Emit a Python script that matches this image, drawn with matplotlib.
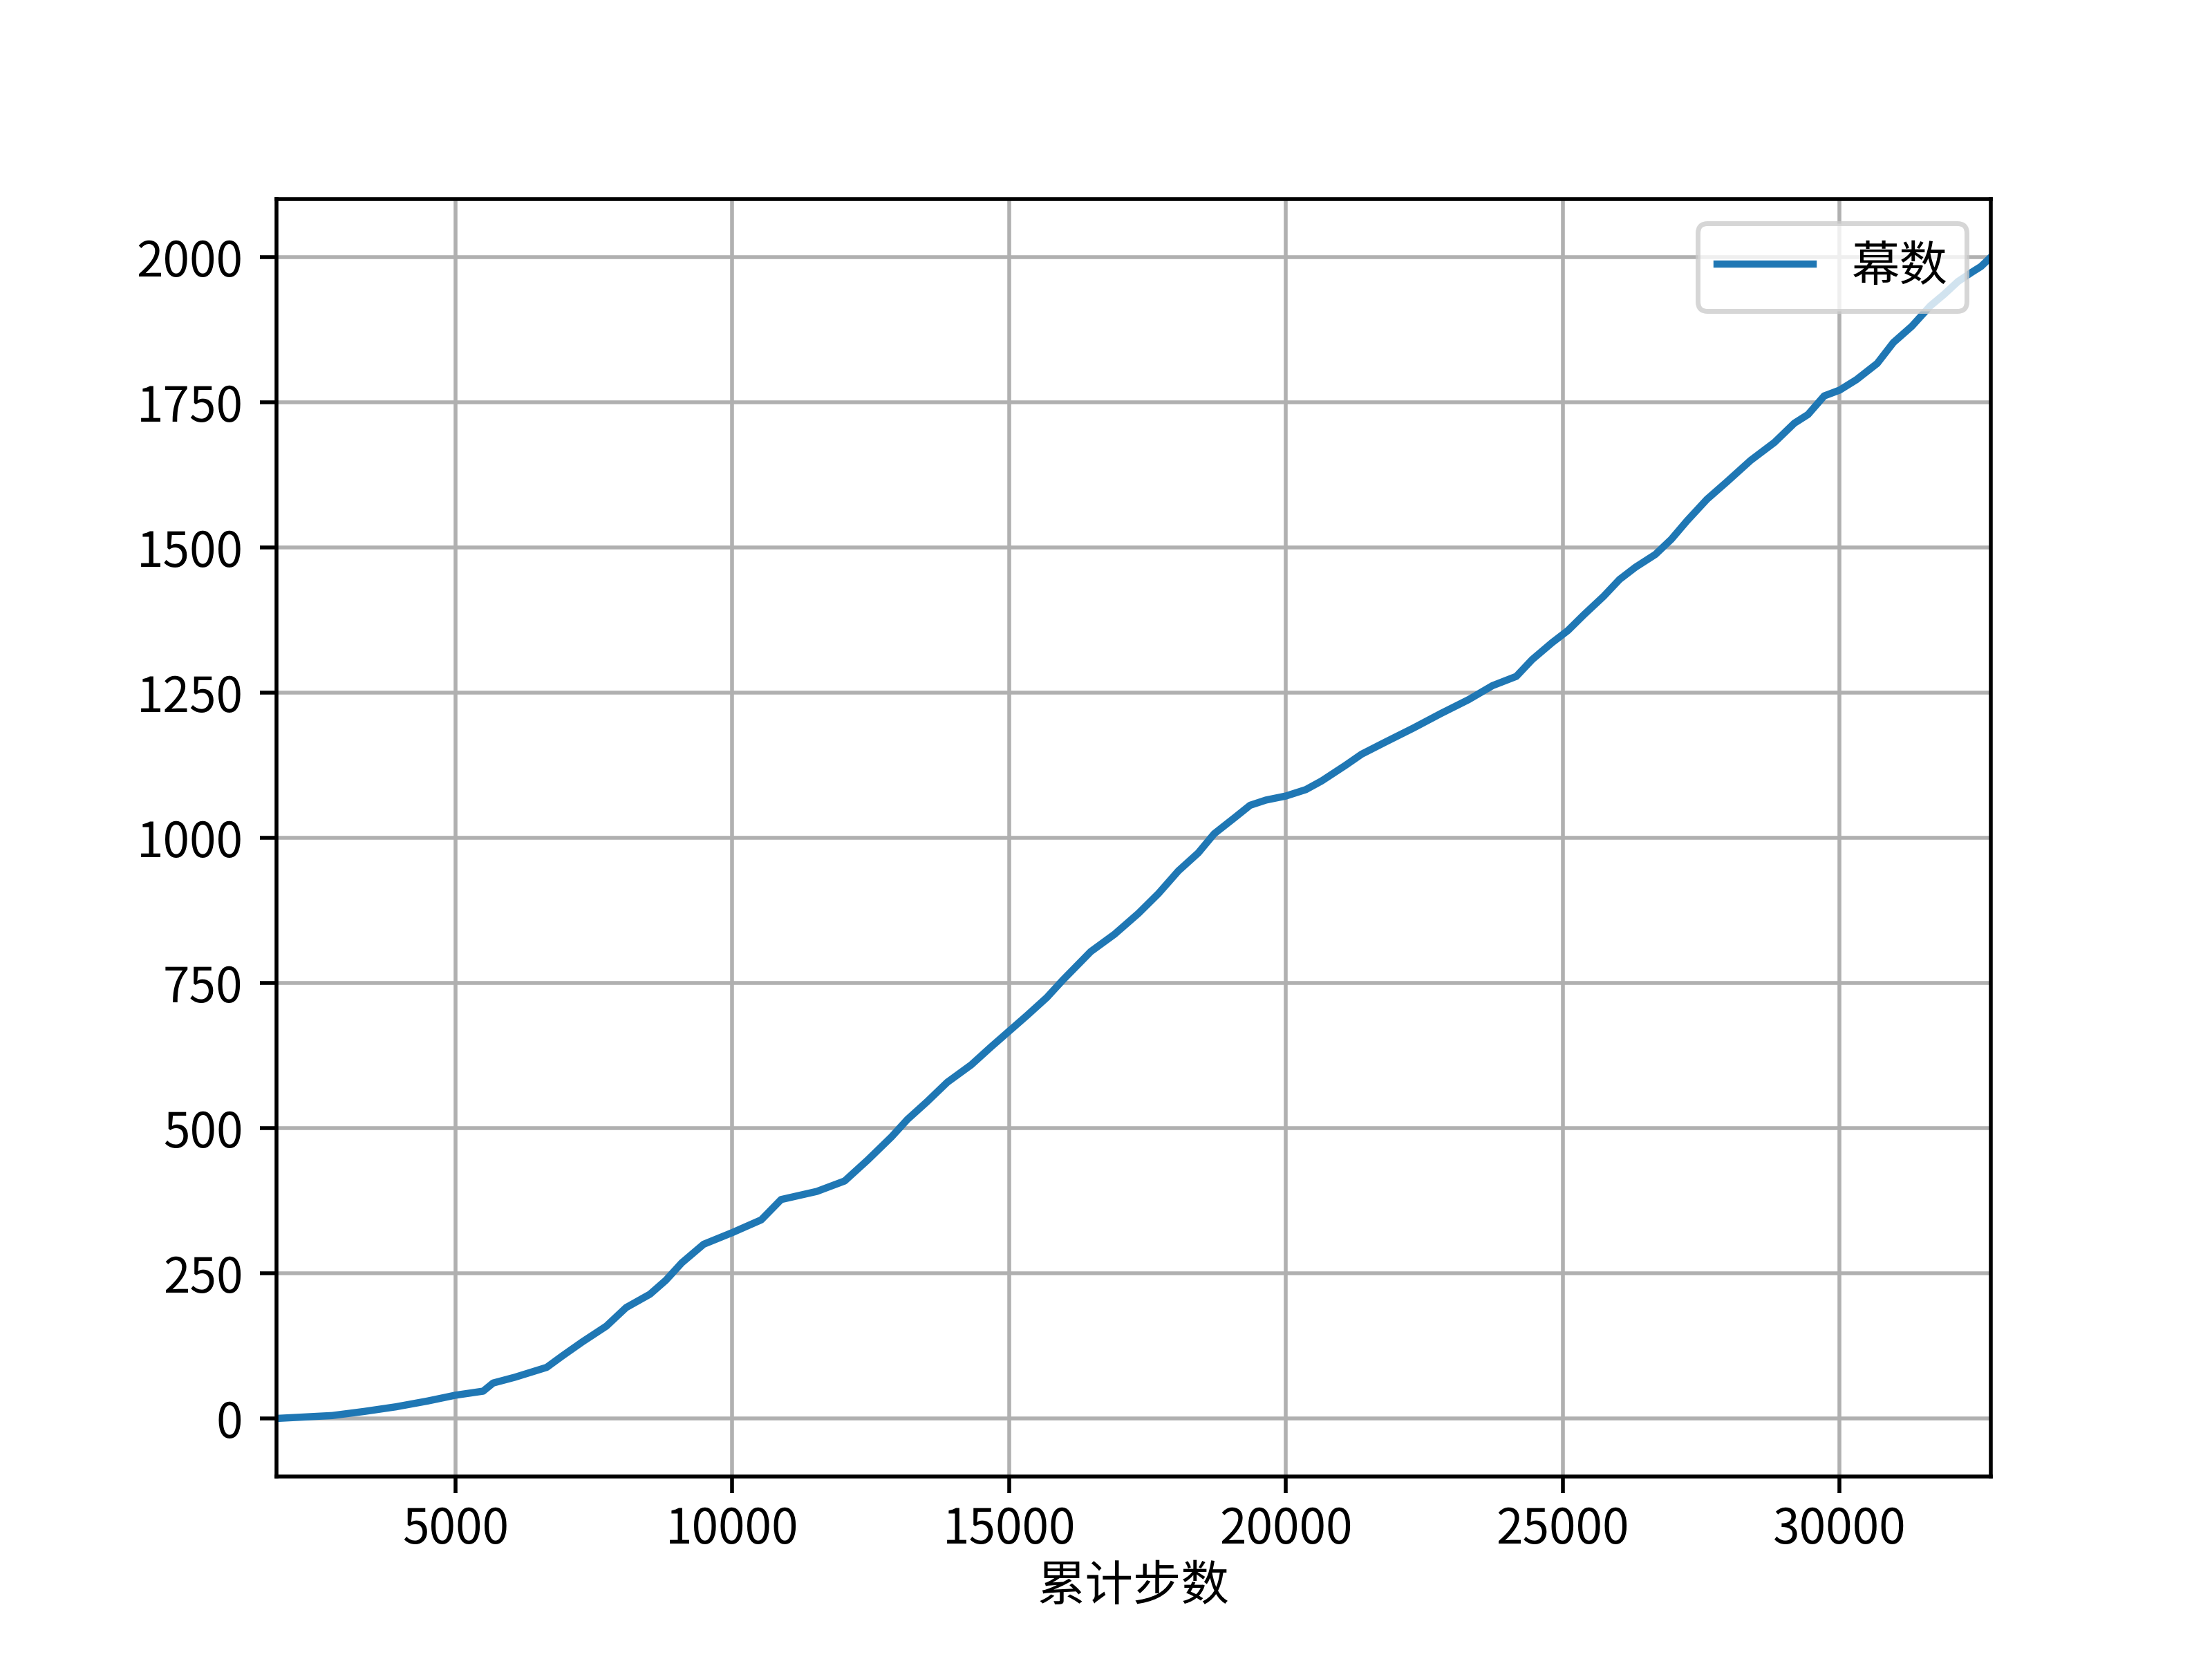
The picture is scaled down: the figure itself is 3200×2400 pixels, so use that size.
import matplotlib
matplotlib.use('Agg')
import matplotlib.pyplot as plt

plt.rcParams['font.family'] = ['Noto Sans CJK SC', 'DejaVu Sans']
plt.rcParams['axes.unicode_minus'] = False

# cumulative steps vs episode count
steps = [1770, 2776, 3350, 3924, 4498, 5000, 5502, 5682, 6076, 6650,
         6937, 7296, 7727, 8085, 8515, 8802, 9089, 9484, 10000, 10524,
         10883, 11529, 12031, 12446, 12878, 13165, 13525, 13885, 14317, 14676,
         15000, 15324, 15683, 15971, 16187, 16475, 16906, 17338, 17698, 18058,
         18417, 18705, 19065, 19353, 19640, 20000, 20360, 20647, 21079, 21367,
         21799, 22302, 22798, 23300, 23730, 24161, 24448, 24806, 25093, 25380,
         25739, 26026, 26313, 26672, 26959, 27245, 27604, 27963, 28393, 28824,
         29182, 29429, 29721, 30000, 30304, 30679, 30971, 31304, 31637, 31887,
         32137, 32387, 32554, 32730]
episodes = [0, 5, 12, 20, 30, 40, 47, 61, 71, 88,
            108, 132, 159, 191, 214, 238, 268, 300, 320, 342,
            377, 391, 409, 445, 485, 515, 546, 579, 609, 640,
            667, 694, 725, 755, 776, 804, 834, 870, 904, 943,
            974, 1007, 1034, 1056, 1065, 1072, 1083, 1098, 1125, 1144,
            1165, 1189, 1214, 1238, 1262, 1278, 1307, 1336, 1357, 1384,
            1416, 1445, 1466, 1488, 1514, 1546, 1583, 1613, 1650, 1681,
            1714, 1729, 1761, 1771, 1789, 1817, 1853, 1881, 1916, 1936,
            1958, 1974, 1984, 2000]

fig = plt.figure(figsize=(6.4, 4.8), dpi=500)
plt.plot(steps, episodes, label='幕数')
plt.xlim(min(steps), max(steps))
plt.xlabel('累计步数', labelpad=1.5)
plt.tick_params(axis='x', pad=2.5)
plt.grid(True)
plt.legend(loc='upper right')
plt.savefig('out.png', dpi=500)
